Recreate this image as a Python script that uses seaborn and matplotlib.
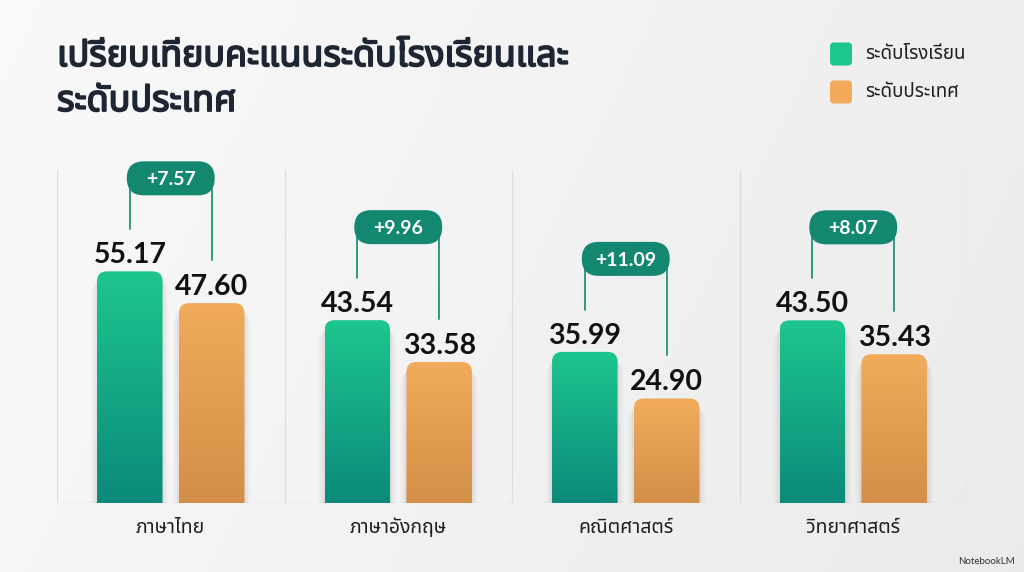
import numpy as np
import pandas as pd
import matplotlib
matplotlib.use("Agg")
import matplotlib.pyplot as plt
import matplotlib.patheffects as pe
import seaborn as sns
from matplotlib import font_manager as fm
from matplotlib.ft2font import FT2Font
from matplotlib.patches import FancyBboxPatch
from matplotlib.colors import LinearSegmentedColormap

# ---------------- data ----------------
title_line1 = "เปรียบเทียบคะแนนระดับโรงเรียนและ"
title_line2 = "ระดับประเทศ"
subjects = ["ภาษาไทย", "ภาษาอังกฤษ", "คณิตศาสตร์", "วิทยาศาสตร์"]
series_names = ["ระดับโรงเรียน", "ระดับประเทศ"]
school = [55.17, 43.54, 35.99, 43.50]
national = [47.60, 33.58, 24.90, 35.43]
diff_labels = ["+7.57", "+9.96", "+11.09", "+8.07"]
watermark = "NotebookLM"

# ---------------- fonts ----------------
def find_thai_font():
    found = {}
    for f in fm.fontManager.ttflist:
        try:
            cm = FT2Font(f.fname).get_charmap()
        except Exception:
            continue
        if 0x0E01 in cm and 0x0E40 in cm:
            found.setdefault(f.name, f.fname)
    prefs = ["Noto Sans Thai", "Noto Sans Thai UI", "Kanit", "Prompt", "Sarabun",
             "Noto Sans Thai Looped", "Loma", "Garuda", "Umpush", "Waree", "Norasi"]
    for p in prefs:
        if p in found:
            return p
    return sorted(found)[0] if found else "DejaVu Sans"

thai = find_thai_font()
sns.set_theme(style="white")
plt.rcParams["font.family"] = [thai, "DejaVu Sans"]
num_family = ["Lato", "DejaVu Sans"]

green_top, green_bot = "#1DC68F", "#0B8A7A"
orange_top, orange_bot = "#F1AB5B", "#D38F47"
pill_color = "#13876F"
line_color = "#2E9985"
title_color = "#1E2533"

W, H = 1024, 572
fig = plt.figure(figsize=(W / 100, H / 100), dpi=100)

# background gradient
bg = fig.add_axes([0, 0, 1, 1], zorder=-10)
xx, yy = np.meshgrid(np.linspace(0, 1, 200), np.linspace(0, 1, 120))
L = 0.978 - 0.045 * xx - 0.012 * yy
bg.imshow(np.dstack([L, L, L]), extent=(0, 1, 0, 1), aspect="auto", origin="upper")
bg.axis("off")

ax = fig.add_axes([57 / W, 69 / H, 910 / W, 333 / H])
ax.patch.set_alpha(0)

df = pd.DataFrame({
    "subject": subjects * 2,
    "level": [series_names[0]] * len(subjects) + [series_names[1]] * len(subjects),
    "score": school + national,
})
sns.barplot(data=df, x="subject", y="score", hue="level",
            palette=[green_top, orange_top], width=0.72, gap=0.2,
            errorbar=None, legend=False, ax=ax)

YMAX = 79.3
ax.set_xlim(-0.5, len(subjects) - 0.5)
ax.set_ylim(0, YMAX)
fig.canvas.draw()
pxx = ax.transData.transform((1, 0))[0] - ax.transData.transform((0, 0))[0]
pxy = ax.transData.transform((0, 1))[1] - ax.transData.transform((0, 0))[1]

grad = np.linspace(0, 1, 256).reshape(-1, 1)
cmaps = [LinearSegmentedColormap.from_list("g", [green_bot, green_top]),
         LinearSegmentedColormap.from_list("o", [orange_bot, orange_top])]

centers = [[], []]
tops = [[], []]
r_px = 10
for k, cont in enumerate(ax.containers[:2]):
    for p in cont.patches:
        x0, w, h = p.get_x(), p.get_width(), p.get_height()
        p.set_visible(False)
        centers[k].append(x0 + w / 2)
        tops[k].append(h)
        # soft shadow
        for j, a in enumerate([0.035, 0.025, 0.018]):
            sh = FancyBboxPatch((x0 - (j + 1) * 2 / pxx, -5), w + (j + 1) * 4 / pxx,
                                h + 5 - (6 + j * 2) / pxy,
                                boxstyle=f"round,pad=0,rounding_size={(r_px + 2 * j) / pxx}",
                                mutation_aspect=pxx / pxy, fc="#000000", ec="none",
                                alpha=a, zorder=1.5)
            ax.add_patch(sh)
        box = FancyBboxPatch((x0, -r_px / pxy), w, h + r_px / pxy,
                             boxstyle=f"round,pad=0,rounding_size={r_px / pxx}",
                             mutation_aspect=pxx / pxy, fc="none", ec="none")
        ax.add_patch(box)
        im = ax.imshow(grad, extent=(x0, x0 + w, 0, h), aspect="auto",
                       cmap=cmaps[k], origin="lower", zorder=2)
        im.set_clip_path(box)
        ax.text(x0 + w / 2, h + 8 / pxy, f"{h:.2f}", ha="center", va="baseline",
                fontsize=20.5, fontweight="bold", color="#111111",
                family=num_family, zorder=5)

# difference pills and connector lines
for i, lab in enumerate(diff_labels):
    gx, ox = centers[0][i], centers[1][i]
    gy, oy = tops[0][i], tops[1][i]
    py = gy + 93 / pxy
    ax.plot([gx, gx], [py, gy + 42 / pxy], color=line_color, lw=1.4, zorder=3, clip_on=False)
    ax.plot([ox, ox], [py, oy + 43 / pxy], color=line_color, lw=1.4, zorder=3, clip_on=False)
    ph = 34 / pxy
    pill = FancyBboxPatch((gx - 3 / pxx, py - ph / 2), (ox - gx) + 6 / pxx, ph,
                          boxstyle=f"round,pad=0,rounding_size={17 / pxx}",
                          mutation_aspect=pxx / pxy, fc=pill_color, ec="none",
                          zorder=4, clip_on=False)
    ax.add_patch(pill)
    ax.text((gx + ox) / 2, py, lab, ha="center", va="center_baseline", color="white",
            fontsize=14, fontweight="bold", family=num_family, zorder=6)

# grid separators and baseline
for b in np.arange(-0.5, len(subjects), 1.0):
    ax.axvline(b, color="#DEDEDE", lw=1, zorder=0)
ax.axhline(0, color="#D8D8D8", lw=1, zorder=1)

for s in ax.spines.values():
    s.set_visible(False)
ax.set_yticks([])
ax.set_xlabel("")
ax.set_ylabel("")
ax.tick_params(axis="x", length=0, pad=11, labelsize=14, labelcolor="#1F1F1F")
ax.set_xlim(-0.5, len(subjects) - 0.5)
ax.set_ylim(0, YMAX)

# title (stroke thickens the glyphs to a heavy weight)
bold_fx = [pe.withStroke(linewidth=1.3, foreground=title_color)]
fig.text(57 / W, 1 - 57 / H, title_line1, ha="left", va="center", fontsize=25.8,
         fontweight="bold", color=title_color, path_effects=bold_fx)
fig.text(57 / W, 1 - 102 / H, title_line2, ha="left", va="center", fontsize=25.8,
         fontweight="bold", color=title_color, path_effects=bold_fx)

# legend
leg_cols = [green_top, orange_top]
for k, name in enumerate(series_names):
    yc = 54 + k * 38
    sq = FancyBboxPatch((830 / W, 1 - (yc + 11.5) / H), 22 / W, 23 / H,
                        boxstyle=f"round,pad=0,rounding_size={4 / W}",
                        mutation_aspect=W / H, fc=leg_cols[k], ec="none",
                        transform=fig.transFigure)
    fig.add_artist(sq)
    fig.text(865 / W, 1 - yc / H, name, ha="left", va="center", fontsize=13.5,
             color="#1F1F1F")

fig.text(1015 / W, 1 - 562 / H, watermark, ha="right", va="center", fontsize=7,
         color="#333333", family=num_family)

fig.savefig("out.png", dpi=100)
